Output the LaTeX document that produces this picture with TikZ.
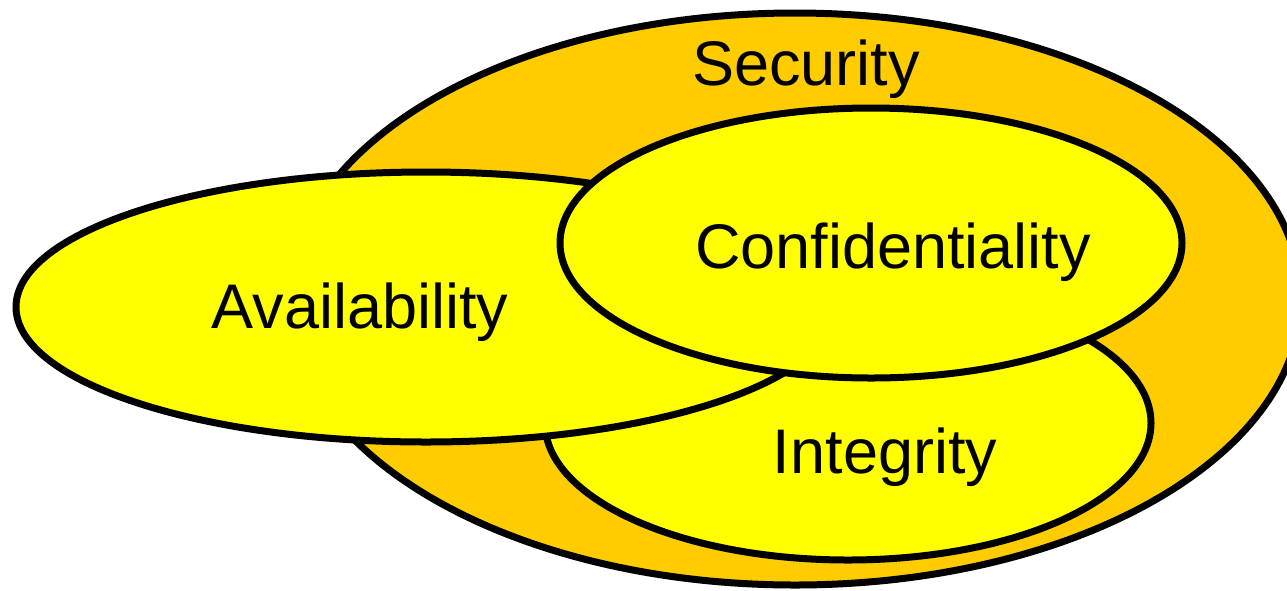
\documentclass[tikz,border=0pt]{standalone}
\usepackage{fontspec}
\setmainfont{Liberation Sans}
\usetikzlibrary{shapes.geometric}
\definecolor{secorange}{HTML}{FFCC00}
\definecolor{ciayellow}{HTML}{FFFF00}
\tikzset{
  blob/.style={ellipse, draw=black, line width=7pt, inner sep=0pt, outer sep=0pt},
  outerblob/.style={blob, fill=secorange},
  innerblob/.style={blob, fill=ciayellow},
  lbl/.style={anchor=base, inner sep=0pt, font=\fontsize{63}{70}\selectfont}
}
\begin{document}
\begin{tikzpicture}[x=1pt,y=-1pt]
\useasboundingbox (0,0) rectangle (1287,590);
\clip (0,0) rectangle (1287,590);
\node[outerblob, minimum width=1012pt, minimum height=572pt] (sec) at (795,299) {};
\node[innerblob, minimum width=606pt, minimum height=274pt] (int) at (848,423) {};
\node[innerblob, minimum width=820pt, minimum height=270pt] (ava) at (426,307) {};
\node[innerblob, minimum width=622pt, minimum height=270pt] (conf) at (871,243) {};
\node[lbl] (tsec) at (806,85) {Security};
\node[lbl] (tconf) at (893,268) {Confidentiality};
\node[lbl] (tava) at (360,328) {Availability};
\node[lbl] (tint) at (885,473) {Integrity};
\end{tikzpicture}
\end{document}
